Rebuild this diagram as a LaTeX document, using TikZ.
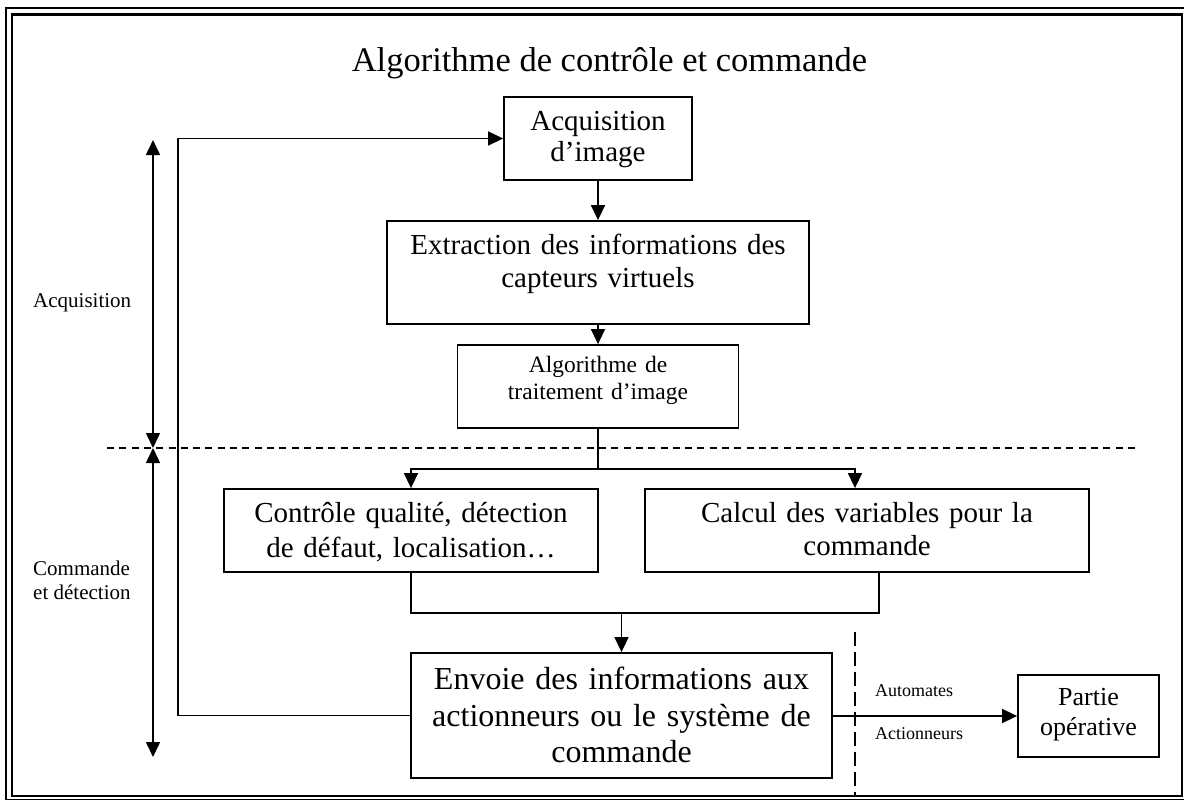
\documentclass[tikz,border=0pt]{standalone}
\usepackage{fontspec}
\setmainfont{Liberation Serif}
\usetikzlibrary{arrows.meta}
\begin{document}
\begin{tikzpicture}[x=1pt,y=-1pt,
  box/.style={draw, line width=1.8pt, inner sep=0pt},
  conn/.style={line width=1.6pt},
  arr/.style={line width=1.6pt, -{Triangle[length=15pt,width=14pt]}},
  dimarr/.style={line width=1.6pt, {Triangle[length=15pt,width=14pt]}-{Triangle[length=15pt,width=14pt]}},
  dashh/.style={line width=1.3pt, dash pattern=on 7pt off 5.3pt},
  dashv/.style={line width=1.3pt, dash pattern=on 14pt off 6pt},
  txt/.style={anchor=base, align=center, text width=460pt, inner sep=0pt},
  lbl/.style={anchor=base west, inner sep=0pt, font=\fontsize{21}{24}\selectfont},
  small/.style={anchor=base west, inner sep=0pt, font=\fontsize{18}{21}\selectfont}
]
\useasboundingbox (0,0) rectangle (1184,800);
% frame
\draw[line width=1.2pt] (6,8) rectangle (1190,799.5);
\draw[line width=2.2pt] (12,14.5) rectangle (1182,796);

% title
\node[anchor=base, inner sep=0pt, font=\fontsize{34.5}{40}\selectfont] (title) at (609.5,72) {Algorithme de contrôle et commande};

% boxes
\node[box, minimum width=188pt, minimum height=83pt] (acq) at (598,138.5) {};
\node[box, minimum width=422pt, minimum height=103pt] (ext) at (598,272.5) {};
\node[box, minimum width=281pt, minimum height=83pt] (alg) at (598,386.5) {};
\node[box, minimum width=374pt, minimum height=83pt] (ctrl) at (411,530.5) {};
\node[box, minimum width=444pt, minimum height=83pt] (calc) at (867,530.5) {};
\node[box, minimum width=421pt, minimum height=125pt] (env) at (621.5,715.5) {};
\node[box, minimum width=141pt, minimum height=82pt] (part) at (1088.5,716) {};

% box texts
\node[txt, font=\fontsize{29}{32}\selectfont] (tacq) at (598,130) {Acquisition\\d’image};
\node[txt, font=\fontsize{29}{33}\selectfont] (text) at (598,254) {Extraction des informations des\\capteurs virtuels};
\node[txt, font=\fontsize{23.5}{27}\selectfont] (talg) at (598,372) {Algorithme de\\traitement d’image};
\node[txt, font=\fontsize{29}{35}\selectfont] (tctrl) at (411,522) {Contrôle qualité, détection\\de défaut, localisation…};
\node[txt, font=\fontsize{29}{33}\selectfont] (tcalc) at (867,522) {Calcul des variables pour la\\commande};
\node[txt, font=\fontsize{32}{36.5}\selectfont] (tenv) at (621.5,689.5) {Envoie des informations aux\\actionneurs ou le système de\\commande};
\node[txt, font=\fontsize{26}{30}\selectfont] (tpart) at (1088.5,705) {Partie\\opérative};

% side labels
\node[lbl] (lacq) at (33,307) {Acquisition};
\node[lbl] (lcom1) at (33,575) {Commande};
\node[lbl] (lcom2) at (33,599) {et détection};
\node[small] (lauto) at (875,696) {Automates};
\node[small] (lact) at (875,739) {Actionneurs};

% coordinates
\coordinate (split) at (598,469);
\coordinate (mL) at (411,613);
\coordinate (mR) at (879,613);
\coordinate (fb) at (178,0);
\coordinate (dimT) at (153,140);
\coordinate (dimM) at (153,448);
\coordinate (dimB) at (153,757);
\coordinate (dL) at (107,448);
\coordinate (dR) at (1137,448);
\coordinate (vT) at (855,632);
\coordinate (vB) at (855,796);

% connectors
\draw[arr] (acq.south) -- (ext.north);
\draw[arr] (ext.south) -- (alg.north);
\draw[conn] (alg.south) -- (split);
\draw[arr] (split) -| (ctrl.north);
\draw[arr] (split) -| ([xshift=-12pt]calc.north);
\draw[conn] (ctrl.south) -- (mL) -- (mR) -- (mR |- calc.south);
\draw[arr] (env.north |- mL) -- (env.north);
\draw[arr] (env.west) -| (fb |- acq.west) -- (acq.west);
\draw[arr] (env.east |- part.west) -- (part.west);

% dimension arrows and separators
\draw[dimarr] (dimT) -- (dimM);
\draw[dimarr] (dimM) -- (dimB);
\draw[dashh] (dL) -- (dR);
\draw[dashv] (vT) -- (vB);
\end{tikzpicture}
\end{document}
